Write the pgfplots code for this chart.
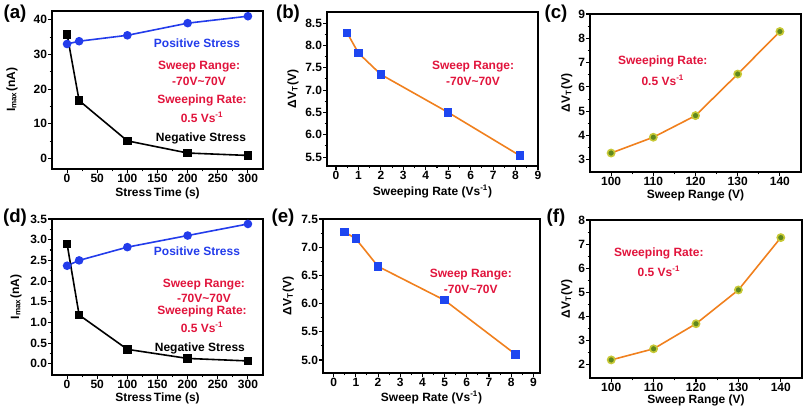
\documentclass[border=0pt]{standalone}
\usepackage{pgfplots}
\pgfplotsset{compat=1.18}
\usepackage{fontspec}
\setmainfont{Liberation Sans}
\definecolor{posblue}{RGB}{35,60,235}
\definecolor{sqblue}{RGB}{30,70,240}
\definecolor{lineorange}{RGB}{240,128,30}
\definecolor{dotgreen}{RGB}{95,135,30}
\definecolor{annred}{RGB}{225,20,60}
\pgfplotsset{
  panel/.style={
    scale only axis,
    anchor=south west,
    axis line style={line width=1pt},
    every tick/.style={line width=0.8pt, black},
    tick align=outside,
    xtick pos=bottom, ytick pos=left,
    minor x tick num=1, minor y tick num=1,
    major tick length=3pt, minor tick length=1.8pt,
    tick label style={font=\fontsize{9}{10}\selectfont\bfseries, inner sep=0.6pt},
    /pgf/number format/assume math mode=true,
    clip=false,
  },
  ylab/.style={every axis y label/.style={at={(rel axis cs:#1,0.5)}, rotate=90, anchor=center, font=\fontsize{9}{11}\selectfont\bfseries}},
  xlab/.style={every axis x label/.style={at={(rel axis cs:0.5,#1)}, anchor=center, font=\fontsize{9}{11}\selectfont\bfseries}},
}
\tikzset{ann/.style={font=\fontsize{9}{10}\selectfont\bfseries, text=annred, anchor=center}}
\begin{document}
\begin{tikzpicture}
\useasboundingbox (0,0) rectangle (603.75pt,307.5pt);
% (a)
\begin{axis}[panel, at={(39pt,180.75pt)}, width=158.25pt, height=118.5pt,
  xmin=-25, xmax=325, ymin=-3, ymax=42.5,
  xtick={0,50,...,300}, ytick={0,10,...,40},
  ylab=-0.19, xlab=-0.152,
  xlabel={Stress\,Time (s)}, ylabel={I\textsubscript{max}(nA)}]
\addplot[posblue, line width=1.2pt, mark=*, mark size=2.6pt, mark options={fill=posblue}] coordinates {(0,33) (20,33.8) (100,35.5) (200,39) (300,41)};
\addplot[black, line width=1.2pt, mark=square*, mark size=2.6pt] coordinates {(0,35.8) (20,16.7) (100,5.1) (200,1.6) (300,0.9)};
\node[ann, text=posblue] at (rel axis cs:0.687,0.797) {Positive Stress};
\node[ann] at (rel axis cs:0.697,0.646) {Sweep Range:};
\node[ann] at (rel axis cs:0.697,0.557) {-70V\textasciitilde70V};
\node[ann] at (rel axis cs:0.711,0.437) {Sweeping Rate:};
\node[ann] at (rel axis cs:0.711,0.329) {0.5 Vs\textsuperscript{-1}};
\node[ann, text=black] at (rel axis cs:0.706,0.196) {Negative Stress};
\end{axis}
% (b)
\begin{axis}[panel, at={(245.25pt,183pt)}, width=158.25pt, height=115.5pt,
  xmin=-0.4, xmax=9, ymin=5.3, ymax=8.75,
  xtick={0,1,...,9}, ytick={5.5,6,...,8.5},
  yticklabel style={/pgf/number format/.cd, fixed, fixed zerofill, precision=1},
  ylab=-0.161, xlab=-0.167,
  xlabel={Sweeping Rate (Vs\textsuperscript{-1})}, ylabel={ΔV\textsubscript{T}(V)}]
\addplot[lineorange, line width=1.2pt, mark=square*, mark size=2.6pt, mark options={fill=sqblue, draw=sqblue}] coordinates {(0.5,8.28) (1,7.83) (2,7.35) (5,6.5) (8.2,5.53)};
\node[ann] at (rel axis cs:0.692,0.643) {Sweep Range:};
\node[ann] at (rel axis cs:0.692,0.552) {-70V\textasciitilde70V};
\end{axis}
% (c)
\begin{axis}[panel, at={(442.5pt,178.5pt)}, width=158.25pt, height=118.5pt,
  xmin=95, xmax=145, ymin=2.5, ymax=9,
  xtick={100,110,...,140}, ytick={3,4,...,9},
  ylab=-0.11, xlab=-0.146,
  xlabel={Sweep Range (V)}, ylabel={ΔV\textsubscript{T}(V)}]
\addplot[lineorange, line width=1.2pt, mark=*, mark size=2.7pt, mark options={fill=dotgreen, draw=yellow!60!dotgreen}] coordinates {(100,3.28) (110,3.93) (120,4.82) (130,6.53) (140,8.28)};
\node[ann] at (rel axis cs:0.345,0.703) {Sweeping Rate:};
\node[ann] at (rel axis cs:0.345,0.582) {0.5 Vs\textsuperscript{-1}};
\end{axis}
% (d)
\begin{axis}[panel, at={(39pt,26.25pt)}, width=158.25pt, height=117pt,
  xmin=-25, xmax=325, ymin=-0.27, ymax=3.5,
  xtick={0,50,...,300}, ytick={0,0.5,...,3.5},
  yticklabel style={/pgf/number format/.cd, fixed, fixed zerofill, precision=1},
  ylab=-0.171, xlab=-0.147,
  xlabel={Stress\,Time (s)}, ylabel={I\textsubscript{max}(nA)}]
\addplot[posblue, line width=1.2pt, mark=*, mark size=2.6pt, mark options={fill=posblue}] coordinates {(0,2.37) (20,2.5) (100,2.82) (200,3.1) (300,3.38)};
\addplot[black, line width=1.2pt, mark=square*, mark size=2.6pt] coordinates {(0,2.9) (20,1.18) (100,0.35) (200,0.13) (300,0.07)};
\node[ann, text=posblue] at (rel axis cs:0.687,0.795) {Positive Stress};
\node[ann] at (rel axis cs:0.72,0.577) {Sweep Range:};
\node[ann] at (rel axis cs:0.72,0.494) {-70V\textasciitilde70V};
\node[ann] at (rel axis cs:0.711,0.41) {Sweeping Rate:};
\node[ann] at (rel axis cs:0.711,0.308) {0.5 Vs\textsuperscript{-1}};
\node[ann, text=black] at (rel axis cs:0.701,0.173) {Negative Stress};
\end{axis}
% (e)
\begin{axis}[panel, at={(242.25pt,27.75pt)}, width=162.75pt, height=115.5pt,
  xmin=-0.48, xmax=9.3, ymin=4.77, ymax=7.5,
  xtick={0,1,...,9}, ytick={5,5.5,...,7.5},
  yticklabel style={/pgf/number format/.cd, fixed, fixed zerofill, precision=1},
  ylab=-0.16, xlab=-0.16,
  xlabel={Sweep Rate (Vs\textsuperscript{-1})}, ylabel={ΔV\textsubscript{T}(V)}]
\addplot[lineorange, line width=1.2pt, mark=square*, mark size=2.6pt, mark options={fill=sqblue, draw=sqblue}] coordinates {(0.5,7.27) (1,7.15) (2,6.66) (5,6.06) (8.2,5.1)};
\node[ann] at (rel axis cs:0.681,0.636) {Sweep Range:};
\node[ann] at (rel axis cs:0.681,0.545) {-70V\textasciitilde70V};
\end{axis}
% (f)
\begin{axis}[panel, at={(442.5pt,24pt)}, width=159pt, height=118.5pt,
  xmin=95, xmax=145, ymin=1.45, ymax=8,
  xtick={100,110,...,140}, ytick={2,3,...,8},
  ylab=-0.11, xlab=-0.139,
  xlabel={Sweep Range (V)}, ylabel={ΔV\textsubscript{T}(V)}]
\addplot[lineorange, line width=1.2pt, mark=*, mark size=2.7pt, mark options={fill=dotgreen, draw=yellow!60!dotgreen}] coordinates {(100,2.2) (110,2.66) (120,3.7) (130,5.1) (140,7.27)};
\node[ann] at (rel axis cs:0.325,0.789) {Sweeping Rate:};
\node[ann] at (rel axis cs:0.325,0.673) {0.5 Vs\textsuperscript{-1}};
\end{axis}
% panel labels
\begin{scope}[every node/.style={font=\fontsize{14}{16}\selectfont\bfseries}]
\node at (11.25pt,297pt) {(a)};
\node at (216pt,297pt) {(b)};
\node at (417pt,297pt) {(c)};
\node at (11.25pt,144pt) {(d)};
\node at (212.25pt,144pt) {(e)};
\node at (417pt,144pt) {(f)};
\end{scope}
\end{tikzpicture}
\end{document}
